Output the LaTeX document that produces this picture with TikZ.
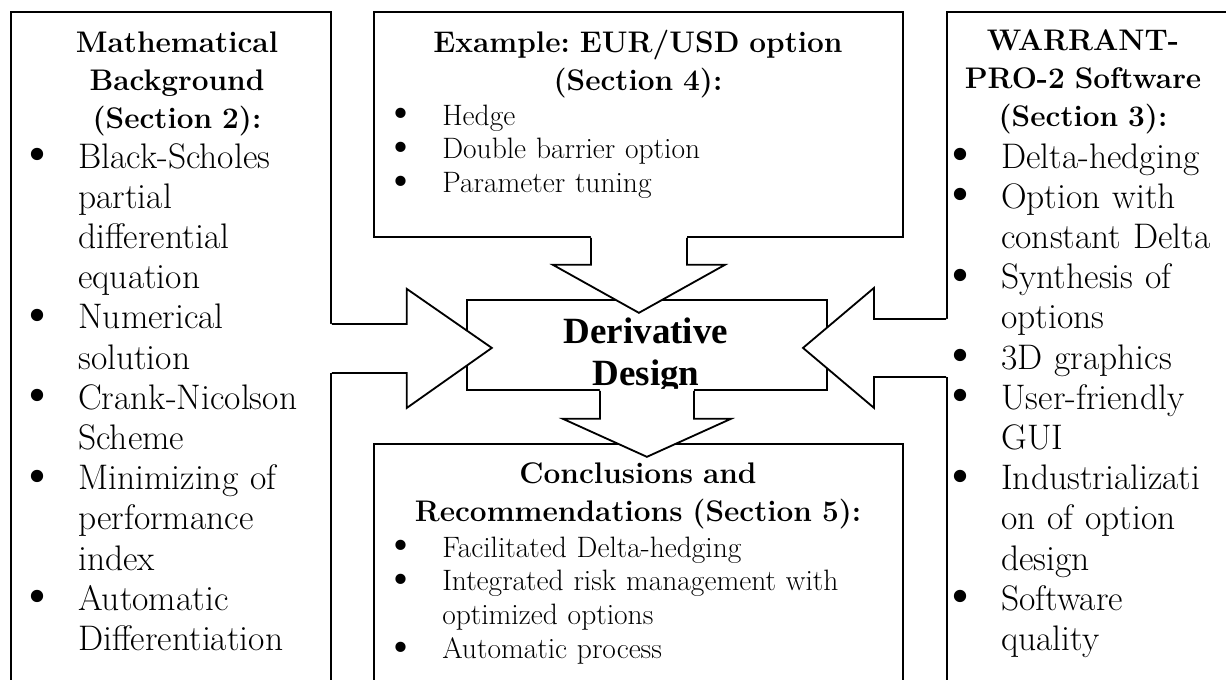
\documentclass[tikz,border=0pt]{standalone}
\usepackage{fontspec}
\usepackage{graphicx}
\newfontfamily\timesfont{Liberation Serif}
\usetikzlibrary{calc}
\frenchspacing

\newlength\px
\setlength\px{0.025cm}
\newcommand\itm{\makebox[20\px][c]{\smash{\raisebox{-0.1em}{\scalebox{1.45}{\timesfont\textbullet}}}}\hspace*{31\px}}
\newcommand\ind{\hspace*{51\px}}
% #1 outline of the arrow, #2 extra bit that only the white fill covers (hides the box edge)
\newcommand\blockarrow[2]{\fill[white] #1 #2 -- cycle; \draw[frame] #1;}

\begin{document}
\begin{tikzpicture}[x=0.025cm, y=-0.025cm,
  frame/.style={line width=1.3pt, line join=miter},
  box/.style={frame, draw, inner sep=0pt, anchor=north west},
  head/.style={font=\fontsize{29.8\px}{38.2\px}\selectfont\bfseries, align=center, text width=330\px, inner sep=0pt, anchor=base},
  biglist/.style={font=\fontsize{35.5\px}{40.2\px}\selectfont, align=left, text width=420\px, inner sep=0pt, anchor=base west},
  smalllist/.style={font=\fontsize{29.5\px}{33.8\px}\selectfont, align=left, text width=480\px, inner sep=0pt, anchor=base west}]
  \useasboundingbox (0,0) rectangle (1226,679);

  % the five boxes
  \node[box, minimum width=320\px, minimum height=700\px] (mathbox) at (10,11) {};
  \node[box, minimum width=529\px, minimum height=225\px] (examplebox) at (373,11) {};
  \node[box, minimum width=300\px, minimum height=700\px] (softbox) at (946,11) {};
  \node[box, minimum width=529\px, minimum height=260\px] (conclbox) at (373,443) {};
  \node[box, minimum width=360\px, minimum height=90\px] (core) at (466,299) {};

  % texts
  \node[head] (mathhead) at (177,52) {Mathematical\\ Background\\ (Section 2):};
  \node[biglist] (mathlist) at (27,168) {\itm Black-Scholes\\ \ind partial\\ \ind differential\\ \ind equation\\
    \itm Numerical\\ \ind solution\\ \itm Crank-Nicolson\\ \ind Scheme\\ \itm Minimizing of\\ \ind performance\\
    \ind index\\ \itm Automatic\\ \ind Differentiation};

  \node[head, text width=520\px] (examplehead) at (638,52) {Example: EUR/USD option\\ (Section 4):};
  \node[smalllist] (examplelist) at (391,125) {\itm Hedge\\ \itm Double barrier option\\ \itm Parameter tuning};

  \node[head] (softhead) at (1083,50) {WARRANT-\\ PRO-2 Software\\ (Section 3):};
  \node[biglist] (softlist) at (950,168) {\itm Delta-hedging\\ \itm Option with\\ \ind constant Delta\\
    \itm Synthesis of\\ \ind options\\ \itm 3D graphics\\ \itm User-friendly\\ \ind GUI\\ \itm Industrializati\\
    \ind on of option\\ \ind design\\ \itm Software\\ \ind quality};

  \node[head, text width=520\px] (conclhead) at (638,483) {Conclusions and\\ Recommendations (Section 5):};
  \node[smalllist] (concllist) at (391,557) {\itm Facilitated Delta-hedging\\ \itm Integrated risk management with\\
    \ind optimized options\\ \itm Automatic process};

  \node[font=\fontsize{37\px}{42\px}\selectfont\timesfont\bfseries, align=center, text width=330\px, inner sep=0pt, anchor=base]
    (coretext) at (646,343) {Derivative\\ Design};

  % block arrows into and out of the core
  \blockarrow{($(mathbox.east |- core.west)+(0,-21)$) -- ++(75,0) -- ++(0,-35) -- ++(85,59) -- ++(-85,60) -- ++(0,-35) -- ++(-75,0)}
    {-- ++(-5,0) -- ++(0,-49)}
  \blockarrow{($(softbox.west |- core.east)+(0,-26)$) -- ++(-72,0) -- ++(0,-31) -- ++(-71,60) -- ++(71,60) -- ++(0,-31) -- ++(72,0)}
    {-- ++(5,0) -- ++(0,-58)}
  \blockarrow{($(examplebox.south)+(-47.5,0)$) -- ++(0,27) -- ++(-38,0) -- ++(86,48) -- ++(86,-48) -- ++(-38,0) -- ++(0,-27)}
    {-- ++(0,-5) -- ++(-96,0)}
  \blockarrow{($(core.south)+(-47,0)$) -- ++(0,28) -- ++(-37,0) -- ++(84,38) -- ++(84,-38) -- ++(-37,0) -- ++(0,-28)}
    {-- ++(0,-2) -- ++(-94,0)}
\end{tikzpicture}
\end{document}
